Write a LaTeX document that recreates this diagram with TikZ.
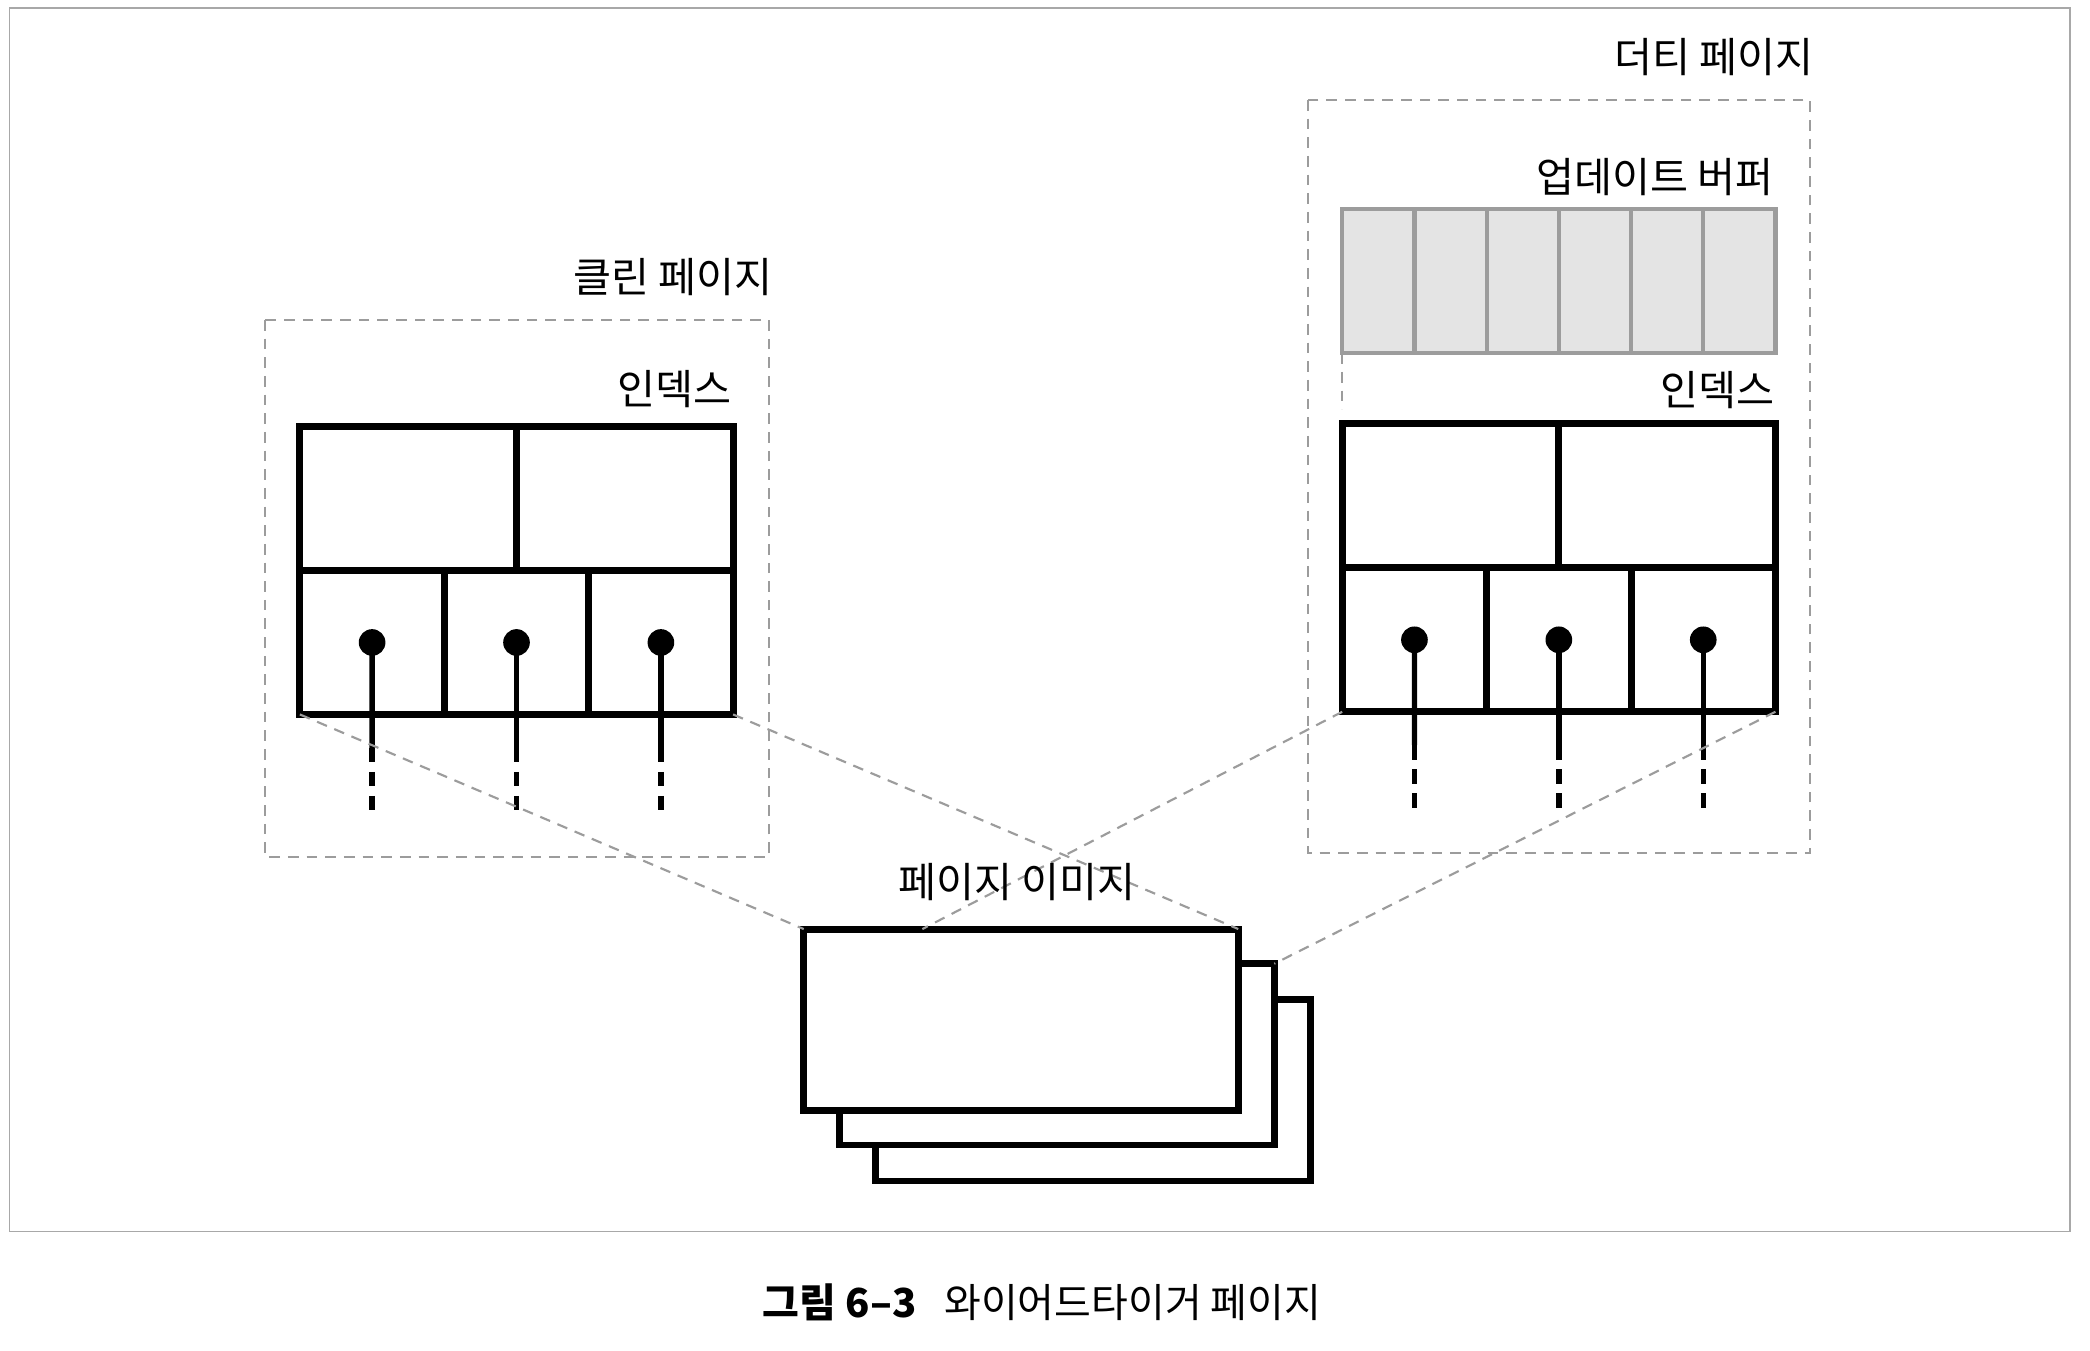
\documentclass[tikz,border=0pt]{standalone}
\usepackage{fontspec}
\setmainfont{Noto Sans CJK KR}
\usetikzlibrary{calc}
\definecolor{dgray}{HTML}{9C9C9C}
\definecolor{fgray}{HTML}{A8A8A8}
\definecolor{bufill}{HTML}{E4E4E4}
\begin{document}
\begin{tikzpicture}[x=0.5pt,y=-0.5pt,
  frame/.style={draw=fgray, line width=0.6pt},
  groupbox/.style={draw=dgray, line width=0.8pt, dash pattern=on 4pt off 3pt},
  link/.style={draw=dgray, line width=0.8pt, dash pattern=on 4pt off 3pt},
  idx/.style={draw=black, line width=2.6pt, fill=white, minimum width=162.5pt, minimum height=108pt, inner sep=0pt, outer sep=0pt, anchor=north west},
  cellline/.style={line width=2.6pt},
  pagebox/.style={draw=black, line width=2.6pt, fill=white, minimum width=163pt, minimum height=68pt, inner sep=0pt, outer sep=0pt, anchor=north west},
  buffer/.style={draw=dgray, line width=1.6pt, fill=bufill, minimum width=162.5pt, minimum height=54pt, inner sep=0pt, outer sep=0pt, anchor=north west},
  stem/.style={line width=2pt},
  stemdash/.style={line width=2pt, dash pattern=on 5.5pt off 3.5pt},
  lbl/.style={font=\fontsize{15.5pt}{18pt}\selectfont, inner sep=0pt, anchor=east},
]
\useasboundingbox (0,0) rectangle (1568,1013);
\fill[white] (0,0) rectangle (1568,1013);
\draw[frame] (7,6) rectangle (1553,924);

% group boxes
\draw[groupbox] (199,240) rectangle (577,643);
\draw[groupbox] (981,75) rectangle (1358,640);

% labels
\node[lbl] (lclean) at (580,208) {클린 페이지};
\node[lbl] (ldirty) at (1361,43) {더티 페이지};
\node[lbl] (lbuf) at (1331,133) {업데이트 버퍼};
\node[lbl] (lidxl) at (549,292) {인덱스};
\node[lbl] (ridxl) at (1332,293) {인덱스};

% update buffer
\node[buffer] (buf) at (1007,157) {};
\foreach \i in {1,...,5} {
  \draw[draw=dgray, line width=1.6pt] ($(buf.north west)!\i/6!(buf.north east)$) -- ($(buf.south west)!\i/6!(buf.south east)$);
}
\coordinate (bufend) at (1007,307);
\draw[link] (buf.south west) -- (bufend);

% index tables
\node[idx] (lidx) at (225,320) {};
\node[idx] (ridx) at (1007,318) {};
\foreach \n in {lidx,ridx} {
  \draw[cellline] (\n.west) -- (\n.east);
  \draw[cellline] (\n.north) -- (\n.center);
  \draw[cellline] ($(\n.west)!1/3!(\n.east)$) -- ($(\n.south west)!1/3!(\n.south east)$);
  \draw[cellline] ($(\n.west)!2/3!(\n.east)$) -- ($(\n.south west)!2/3!(\n.south east)$);
  \foreach \f in {1,3,5} {
    \coordinate (d) at ($($(\n.west)!\f/6!(\n.east)$)!0.5!($(\n.south west)!\f/6!(\n.south east)$)$);
    \coordinate (s) at ($(\n.south west)!\f/6!(\n.south east)$);
    \draw[stem] (d) -- ($(s)+(0,25)$);
    \draw[stemdash] ($(s)+(0,25)$) -- ($(s)+(0,77)$);
    \fill (d) circle (5pt);
  }
}

% page images
\node[pagebox] (img3) at (657,750) {};
\node[pagebox] (img2) at (630,723) {};
\node[pagebox] (img1) at (603,697) {};

% connectors
\draw[link] (lidx.south west) -- (img1.north west);
\draw[link] (lidx.south east) -- (img1.north east);
\draw[link] (ridx.south west) -- ($(img1.north west)!0.273!(img1.north east)$);
\draw[link] (ridx.south east) -- (img2.north east);

\node[font=\fontsize{15.5pt}{18pt}\selectfont, inner sep=0pt] (limg) at (763,662) {페이지 이미지};

% caption
\node[anchor=west, inner sep=0pt, font=\fontsize{15pt}{18pt}\selectfont] (cap) at (572,977) {\bfseries 그림 6–3\hspace{0.7em}\mdseries 와이어드타이거 페이지};
\end{tikzpicture}
\end{document}
